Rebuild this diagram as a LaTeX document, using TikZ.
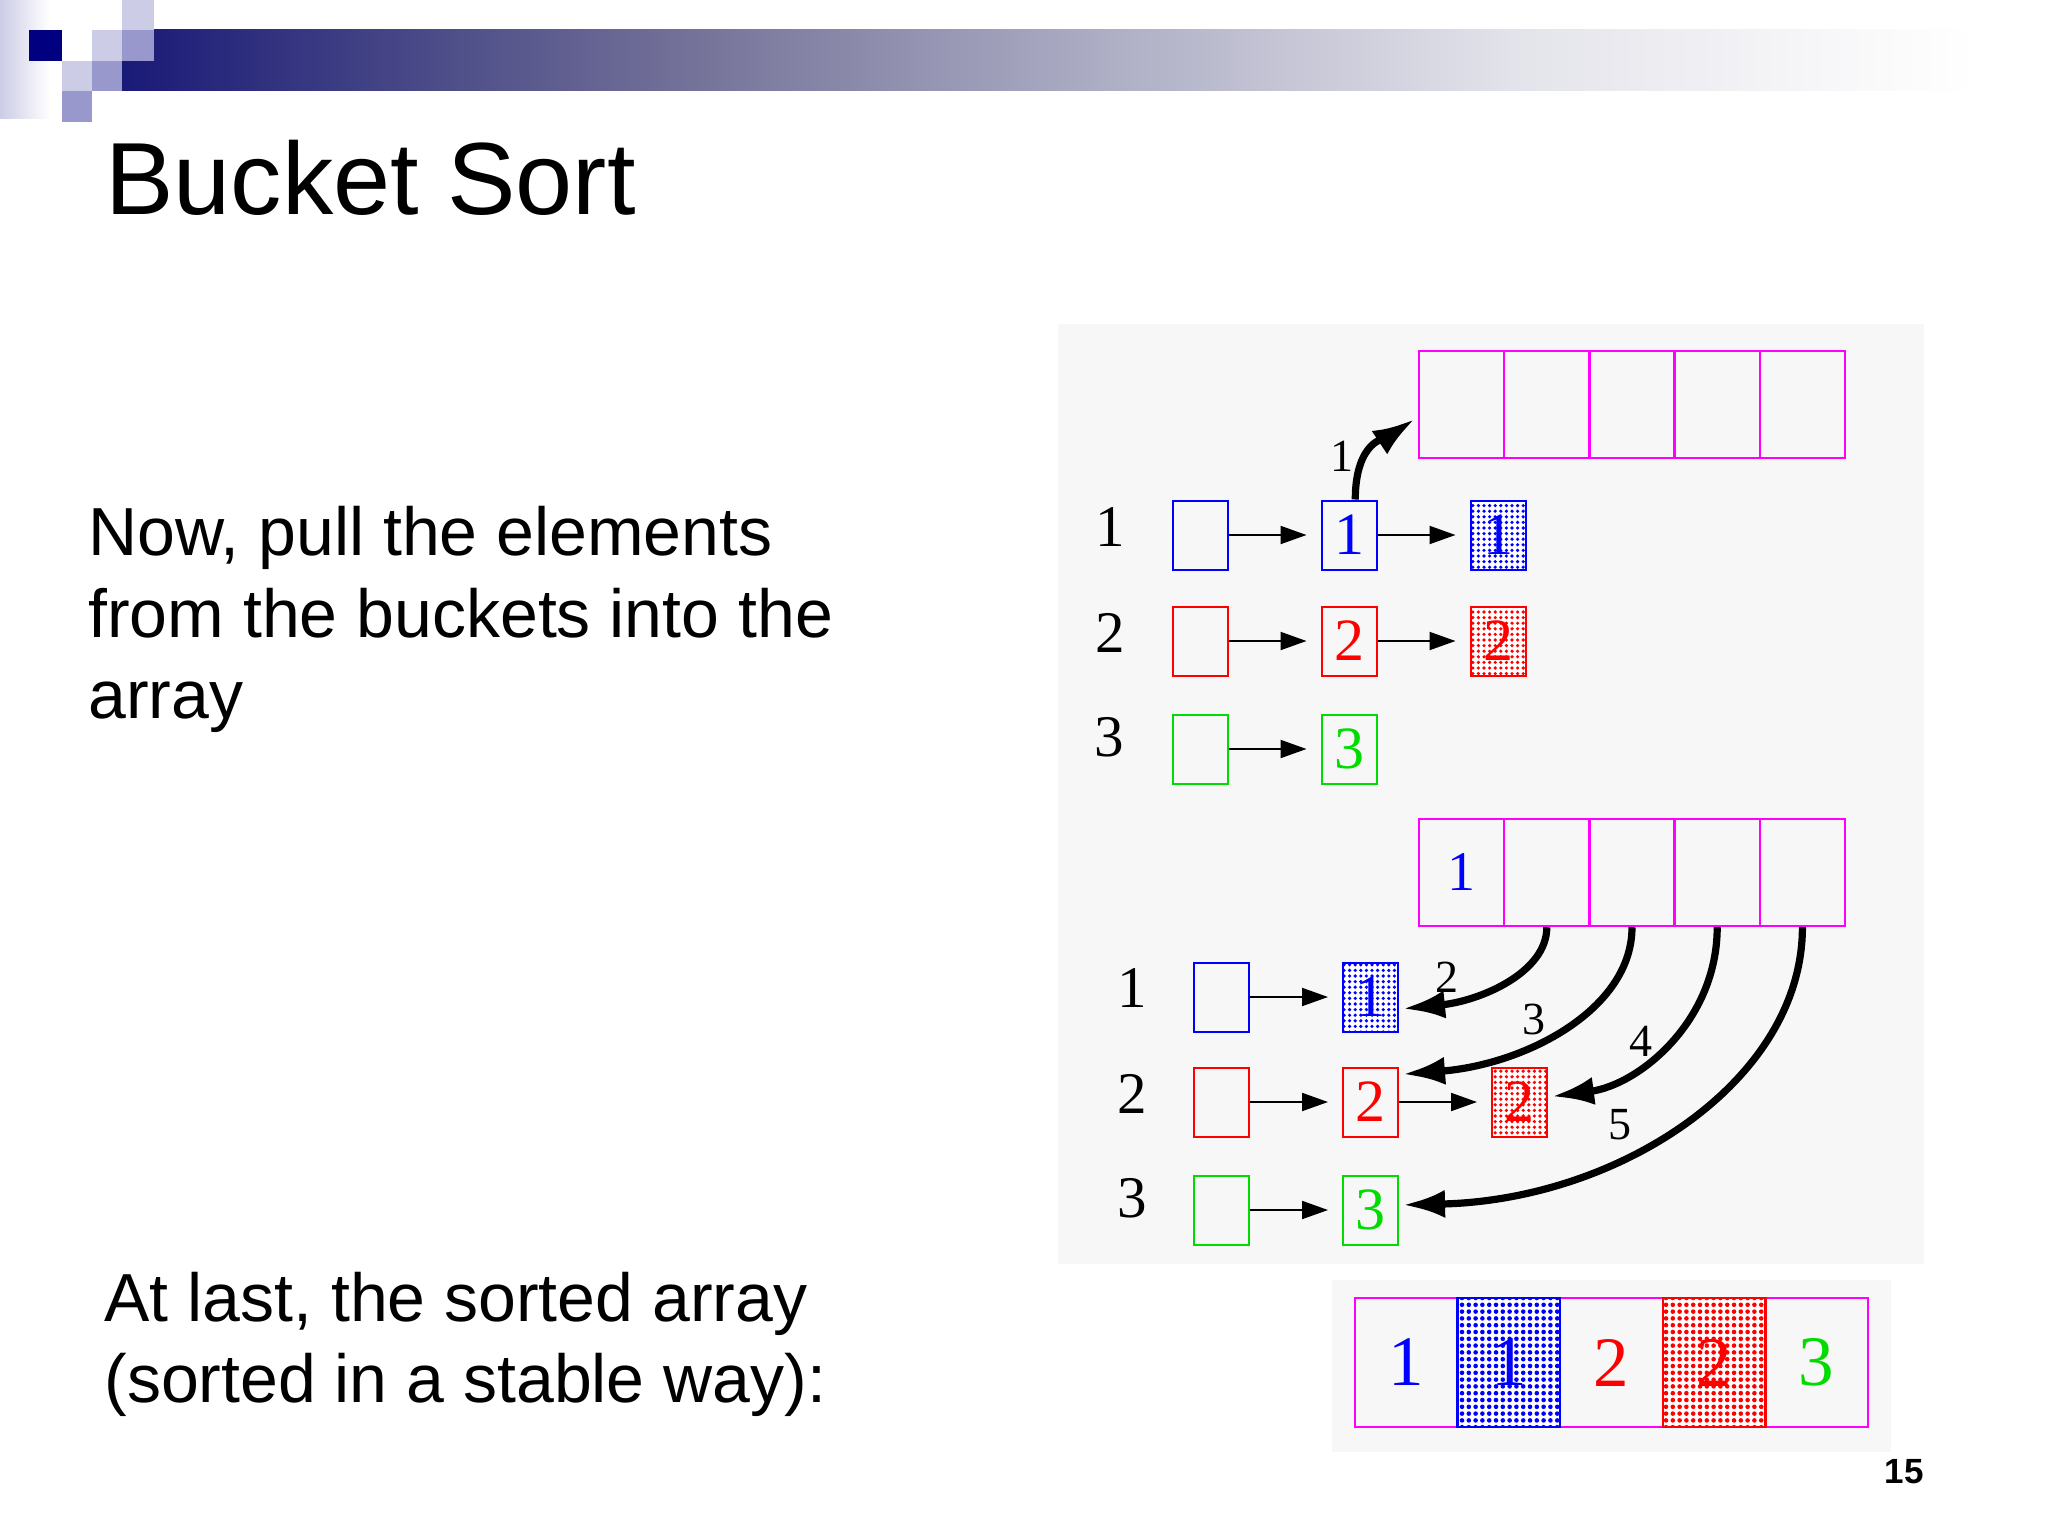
\documentclass[tikz,border=0pt]{standalone}
\usepackage{fontspec}
\setmainfont{Liberation Serif}
\newfontfamily\arialf{Liberation Sans}
\usetikzlibrary{arrows.meta,patterns.meta}
\definecolor{navy}{RGB}{0,0,128}
\definecolor{lavl}{RGB}{204,204,230}
\definecolor{lavm}{RGB}{152,152,204}
\definecolor{panel}{RGB}{247,247,247}
\definecolor{mag}{RGB}{255,0,255}
\definecolor{grn}{RGB}{0,220,0}
\definecolor{blu}{RGB}{0,0,255}
\definecolor{rd}{RGB}{255,0,0}
\pgfdeclarehorizontalshading{barshade}{100bp}{rgb(0bp)=(0.10,0.10,0.47); rgb(25bp)=(0.10,0.10,0.47); rgb(34bp)=(0.31,0.31,0.54); rgb(40.5bp)=(0.46,0.45,0.60); rgb(50bp)=(0.65,0.65,0.75); rgb(62.5bp)=(0.89,0.89,0.92); rgb(70bp)=(0.96,0.96,0.97); rgb(75bp)=(1,1,1); rgb(100bp)=(1,1,1)}
\tikzset{
  bx/.style={draw=#1, line width=1pt, minimum width=27.5pt, minimum height=34.5pt, inner sep=0pt, text=#1, font=\fontsize{30}{30}\selectfont},
  dotbx/.style={bx=#1, preaction={fill=white}, pattern={Dots[distance=2.8pt,radius=0.9pt]}, pattern color=#1},
  cell/.style={draw=mag, line width=1.2pt, minimum width=42.6pt, minimum height=53.5pt, inner sep=0pt, font=\fontsize{28}{28}\selectfont},
  bcell/.style={draw=mag, line width=1.2pt, minimum width=51.3pt, minimum height=64.5pt, inner sep=0pt, font=\fontsize{35.5}{36}\selectfont},
  bdot/.style={bcell, draw=#1, text=#1, preaction={fill=white}, pattern={Dots[distance=3.4pt,radius=1.15pt]}, pattern color=#1},
  arr/.style={-{Triangle[length=13pt,width=9pt]}, line width=1pt, shorten >=7pt},
  tarr/.style={-{Latex[length=21pt,width=14pt]}, line width=3.6pt, shorten >=2pt},
  rl/.style={inner sep=0pt, font=\fontsize{29.5}{30}\selectfont},
  lbl/.style={inner sep=0pt, font=\fontsize{23}{23}\selectfont},
  body/.style={anchor=base west, inner sep=0pt, font=\arialf\fontsize{34}{40}\selectfont}
}
\begin{document}
\begin{tikzpicture}[x=0.5pt,y=-0.5pt]
\useasboundingbox (0,0) rectangle (2048,1536);
\fill[white] (0,0) rectangle (2048,1536);
% header decoration
\shade[left color=lavl, right color=white] (0,0) rectangle (50,118);
\shade[shading=barshade] (122,30) rectangle (1975,91);
\fill[lavl] (122,0) rectangle (154,30);
\fill[lavl] (92,30) rectangle (122,61);
\fill[lavm] (122,30) rectangle (154,61);
\fill[lavl] (62,61) rectangle (92,91);
\fill[lavm] (92,61) rectangle (122,91);
\fill[lavm] (62,91) rectangle (92,122);
\fill[navy] (29,30) rectangle (62,61);
% texts
\node[anchor=base west, inner sep=0pt, font=\arialf\fontsize{51.3}{61}\selectfont] (title) at (105,214) {Bucket Sort};
\node[body] (tx1) at (88,555) {Now, pull the elements};
\node[body] (tx2) at (88,637) {from the buckets into the};
\node[body] (tx3) at (88,718) {array};
\node[body] (tx4) at (104,1321) {At last, the sorted array};
\node[body] (tx5) at (104,1402) {(sorted in a stable way):};
\node[anchor=base east, inner sep=0pt, font=\arialf\bfseries\fontsize{17.5}{20}\selectfont] (pg) at (1924,1483) {15};
% panels
\fill[panel] (1058,324) rectangle (1924,1264);
\fill[panel] (1332,1280) rectangle (1891,1452);
% top array
\foreach \i/\x in {1/1461.6,2/1546.8,3/1632,4/1717.2,5/1802.4}
  \node[cell] (a\i) at (\x,404.5) {};
% top buckets
\node[rl] (L1) at (1110,527) {1};
\node[rl] (L2) at (1110,633) {2};
\node[rl] (L3) at (1109,737) {3};
\node[bx=blu] (e1) at (1200,535) {};
\node[bx=blu] (t1) at (1349,535) {1};
\node[dotbx=blu] (s1) at (1498,535) {1};
\node[bx=rd] (e2) at (1200,641) {};
\node[bx=rd] (t2) at (1349,641) {2};
\node[dotbx=rd] (s2) at (1498,641) {2};
\node[bx=grn] (e3) at (1200,749) {};
\node[bx=grn] (t3) at (1349,749) {3};
\draw[arr] (e1) -- (t1);
\draw[arr] (t1) -- (s1);
\draw[arr] (e2) -- (t2);
\draw[arr] (t2) -- (s2);
\draw[arr] (e3) -- (t3);
\draw[tarr] (t1.80) .. controls +(0,-60) and +(-30,20) .. (a1.196);
\node[lbl] (n1) at (1342,456) {1};
% lower array
\node[cell, text=blu] (c1) at (1461.6,872.5) {1};
\foreach \i/\x in {2/1546.8,3/1632,4/1717.2,5/1802.4}
  \node[cell] (c\i) at (\x,872.5) {};
% lower buckets
\node[rl] (M1) at (1132,988) {1};
\node[rl] (M2) at (1132,1094) {2};
\node[rl] (M3) at (1132,1198) {3};
\node[bx=blu] (f1) at (1221.5,997) {};
\node[dotbx=blu] (sb1) at (1370.5,997) {1};
\node[bx=rd] (f2) at (1221.5,1102) {};
\node[bx=rd] (b2) at (1370.5,1102) {2};
\node[dotbx=rd] (sr2) at (1519.5,1102) {2};
\node[bx=grn] (f3) at (1221.5,1210) {};
\node[bx=grn] (b3) at (1370.5,1210) {3};
\draw[arr] (f1) -- (sb1);
\draw[arr] (f2) -- (b2);
\draw[arr] (b2) -- (sr2);
\draw[arr] (f3) -- (b3);
\draw[tarr] (c2.south) .. controls +(0,46) and +(80,-8) .. (sb1.-23);
\draw[tarr] (c3.south) .. controls +(0,82) and +(127,-10) .. (b2.44);
\draw[tarr] (c4.south) .. controls +(0,94) and +(91,-12) .. (sr2.10);
\draw[tarr] (c5.south) .. controls +(0,153) and +(221,-5) .. (b3.10);
\node[lbl] (n2) at (1447,977) {2};
\node[lbl] (n3) at (1534,1019) {3};
\node[lbl] (n4) at (1641,1041) {4};
\node[lbl] (n5) at (1620,1125) {5};
% sorted array
\node[bcell, text=blu] (d1) at (1406.3,1362.5) {1};
\node[bcell, text=rd] (d3) at (1611.5,1362.5) {2};
\node[bcell, text=grn] (d5) at (1816.7,1362.5) {3};
\node[bdot=blu] (d2) at (1508.9,1362.5) {1};
\node[bdot=rd] (d4) at (1714.1,1362.5) {2};
\end{tikzpicture}
\end{document}
